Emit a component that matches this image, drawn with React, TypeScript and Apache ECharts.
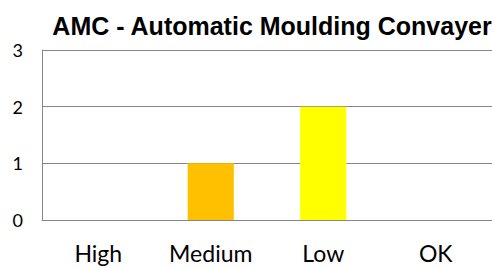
import React, { useEffect, useRef } from "react";
import * as echarts from "echarts";

const titleText = "AMC - Automatic Moulding Convayer";
const categories = ["High", "Medium", "Low", "OK"];
const values = [0, 1, 2, 0];
const barColors = ["#C00000", "#FFC000", "#FFFF00", "#00B050"];
const yTicks = [0, 1, 2, 3];

export default function App() {
  const ref = useRef<HTMLDivElement>(null);
  useEffect(() => {
    if (!ref.current) return;
    const chart = echarts.init(ref.current, null, { renderer: "svg" });
    chart.setOption({
      animation: false,
      backgroundColor: "#ffffff",
      title: {
        text: titleText,
        left: 267,
        top: 8,
        textAlign: "center",
        textStyle: {
          fontFamily: "'Liberation Sans', Arial, Helvetica, sans-serif",
          fontWeight: "bold",
          fontSize: 25,
          color: "#000000",
        },
      },
      grid: { left: 42, top: 50, width: 452, height: 170, containLabel: false },
      xAxis: {
        type: "category",
        data: categories,
        axisLine: { show: true, lineStyle: { color: "#868686", width: 1 } },
        axisTick: { show: false },
        axisLabel: {
          margin: 21,
          fontFamily: "Lato, sans-serif",
          fontSize: 23,
          color: "#000000",
        },
      },
      yAxis: {
        type: "value",
        min: yTicks[0],
        max: yTicks[yTicks.length - 1],
        interval: 1,
        axisLine: { show: true, lineStyle: { color: "#868686", width: 1 } },
        axisTick: { show: false },
        splitLine: { show: true, lineStyle: { color: "#868686", width: 1 } },
        axisLabel: {
          margin: 19,
          fontFamily: "Lato, sans-serif",
          fontSize: 18,
          color: "#000000",
        },
      },
      series: [
        {
          type: "bar",
          barWidth: "41%",
          data: values.map((v, i) => ({ value: v, itemStyle: { color: barColors[i] } })),
        },
      ],
    });
    return () => chart.dispose();
  }, []);
  return (
    <div
      ref={ref}
      style={{ position: "fixed", left: 0, top: 0, width: 492, height: 268, background: "#fff" }}
    />
  );
}
